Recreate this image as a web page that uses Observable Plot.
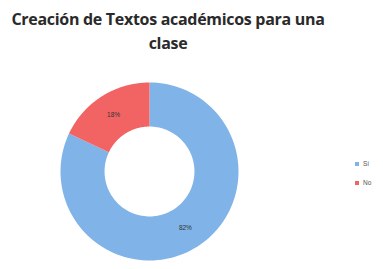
<!DOCTYPE html>
<html>
<head>
<meta charset="utf-8">
<script src="https://cdn.jsdelivr.net/npm/d3@7"></script>
<script src="https://cdn.jsdelivr.net/npm/@observablehq/plot@0.6"></script>
<style>
  body { margin: 0; background: #fff; width: 383px; height: 269px; overflow: hidden; font-family: "Open Sans", sans-serif; }
  #title { width: 336px; text-align: center; font-weight: 700; font-size: 16px; line-height: 24px; color: #2a2a2a; padding-top: 7px; height: 48px; letter-spacing: -0.3px; white-space: nowrap; }
  #wrap { position: relative; }
  #legend { position: absolute; left: 355px; top: 99px; font-size: 6.5px; color: #555; font-family: "Liberation Sans", sans-serif; }
  #legend div { display: flex; align-items: center; height: 19px; }
  #legend span.sw { width: 4px; height: 4px; margin-right: 4px; display: inline-block; }
</style>
</head>
<body>
<div id="title">Creación de Textos académicos para una<br>clase</div>
<div id="wrap"><div id="legend"></div></div>
<script>
const categories = ["Sí", "No"];
const values = [82, 18];
const labels = ["82%", "18%"];
const colors = ["#80b3e8", "#f26464"];

const innerRatio = 0.505;
const pie = d3.pie().sort(null).value(d => d.value)(categories.map((c, i) => ({cat: c, value: values[i], label: labels[i]})));

const pts = [];
pie.forEach(s => {
  const n = 120;
  for (let k = 0; k <= n; k++) {
    const a = s.startAngle + (s.endAngle - s.startAngle) * k / n;
    pts.push({cat: s.data.cat, x: Math.sin(a), y: Math.cos(a)});
  }
  for (let k = n; k >= 0; k--) {
    const a = s.startAngle + (s.endAngle - s.startAngle) * k / n;
    pts.push({cat: s.data.cat, x: innerRatio * Math.sin(a), y: innerRatio * Math.cos(a)});
  }
});
const mid = (1 + innerRatio) / 2;
const lab = pie.map(s => {
  const a = (s.startAngle + s.endAngle) / 2;
  return {label: s.data.label, x: mid * Math.sin(a), y: mid * Math.cos(a)};
});

const chart = Plot.plot({
  width: 383,
  height: 214,
  marginLeft: 60,
  marginRight: 145,
  marginTop: 27,
  marginBottom: 9,
  x: {domain: [-1, 1], axis: null},
  y: {domain: [-1, 1], axis: null},
  color: {domain: categories, range: colors},
  marks: [
    Plot.line(pts, {x: "x", y: "y", z: "cat", fill: "cat", stroke: "none", curve: "linear"}),
    Plot.text(lab, {x: "x", y: "y", text: "label", fontSize: 6.5, fill: "#333", fontFamily: "Liberation Sans"})
  ]
});
document.getElementById("wrap").prepend(chart);

const leg = document.getElementById("legend");
categories.forEach((c, i) => {
  const d = document.createElement("div");
  d.innerHTML = `<span class="sw" style="background:${colors[i]}"></span>${c}`;
  leg.appendChild(d);
});
</script>
</body>
</html>
